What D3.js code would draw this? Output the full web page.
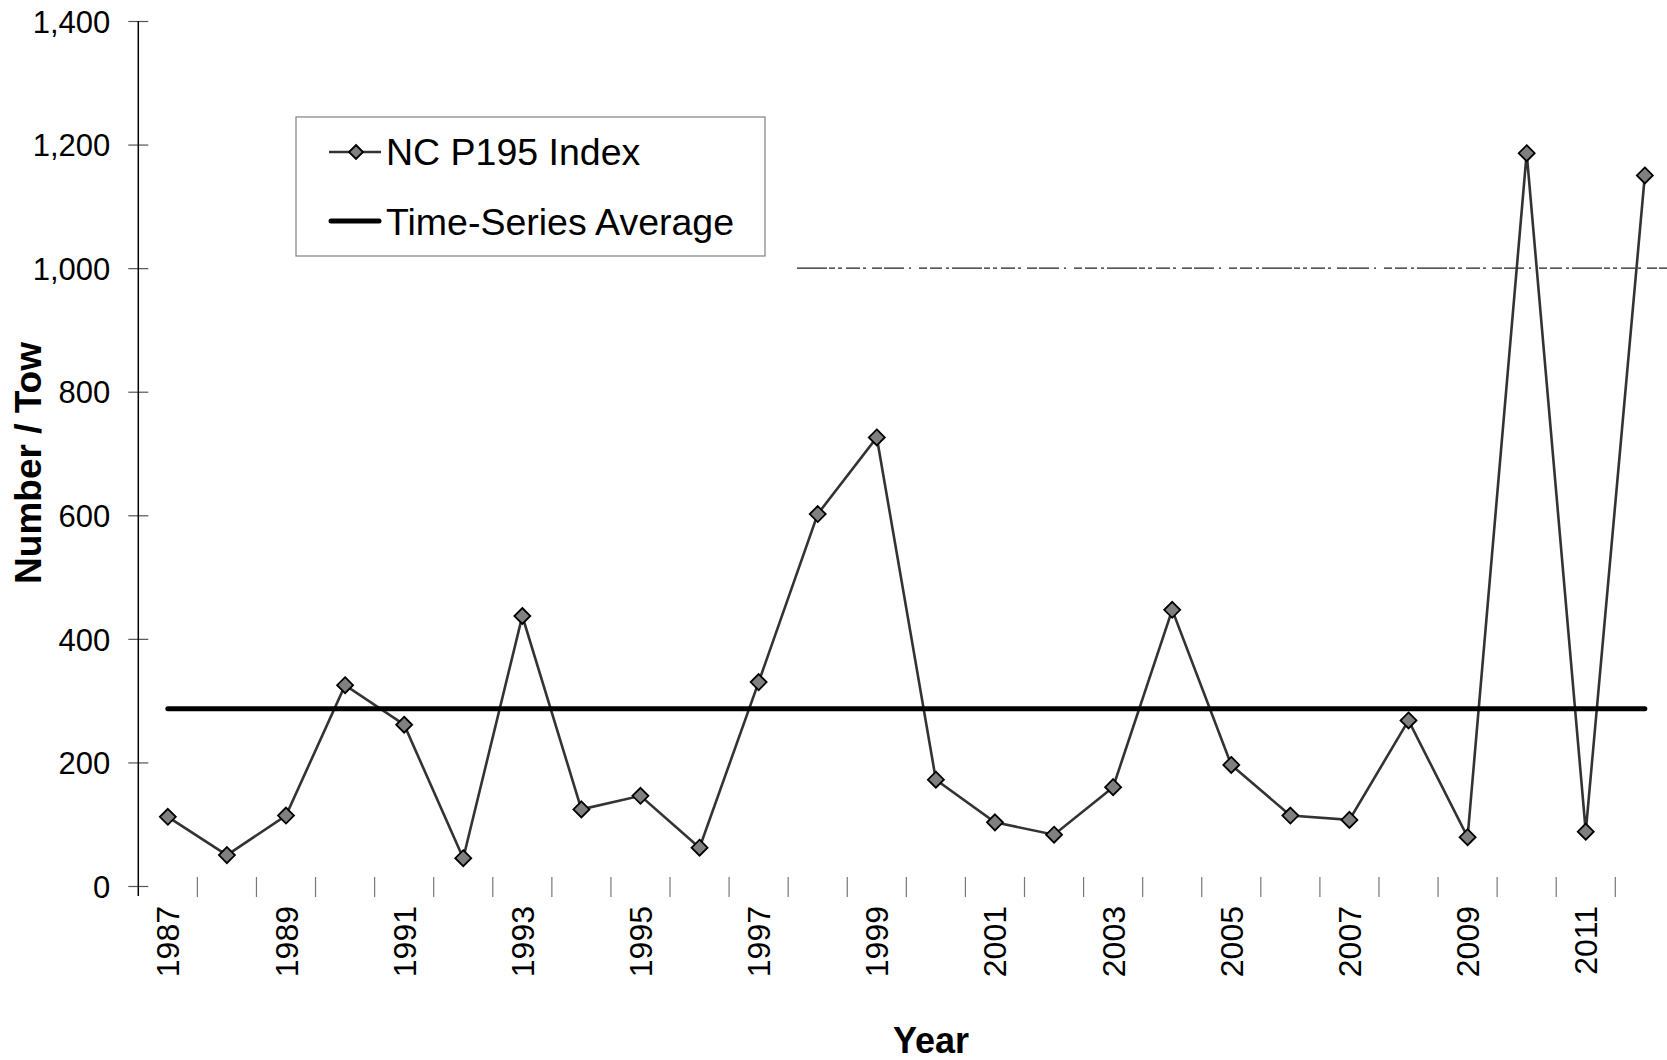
<!DOCTYPE html>
<html>
<head>
<meta charset="utf-8">
<script src="https://cdn.jsdelivr.net/npm/d3@7"></script>
<style>
  html, body { margin: 0; padding: 0; background: #fff; }
  svg { display: block; font-family: "Liberation Sans", Arial, sans-serif; }
</style>
</head>
<body>
<svg id="chart" width="1667" height="1060"></svg>
<script>
// ---- data ----
const years = [1987,1988,1989,1990,1991,1992,1993,1994,1995,1996,1997,1998,1999,
               2000,2001,2002,2003,2004,2005,2006,2007,2008,2009,2010,2011,2012];
const indexValues = [112,50,114,325,261,45,437,124,146,62,330,602,726,
                     172,103,83,160,447,196,114,107,268,79,1186,88,1150];
const averageValue = 287;
const yTicks = [0,200,400,600,800,1000,1200,1400];
const xLabelYears = [1987,1989,1991,1993,1995,1997,1999,2001,2003,2005,2007,2009,2011];
const seriesNames = ["NC P195 Index", "Time-Series Average"];
const artifactLevel = 1000;

// ---- layout ----
const svg = d3.select("#chart");
const plotLeft = 138.3, plotTop = 21, plotBottom = 886;
const step = 59.08;
const x = d3.scaleBand().domain(years).range([plotLeft, plotLeft + step * years.length]).paddingInner(0).paddingOuter(0);
const y = d3.scaleLinear().domain([0, 1400]).range([plotBottom, plotTop]);
const cx = d => x(d) + x.bandwidth() / 2;

// artifact broken line at 1000
svg.append("line")
  .attr("x1", 797).attr("x2", 1667)
  .attr("y1", y(artifactLevel)).attr("y2", y(artifactLevel))
  .attr("stroke", "#222").attr("stroke-width", 1.4)
  .attr("stroke-dasharray", "30 2 6 3 4 4 14 3 3 6 10 2 20 5 2 8 8 3 12 4 3 3");

// y axis
const yAxis = d3.axisLeft(y).tickValues(yTicks).tickFormat(d3.format(",")).tickSize(0).tickPadding(0);
const yg = svg.append("g").attr("transform", `translate(${plotLeft},0)`).call(yAxis);
yg.select(".domain").remove();
yg.selectAll(".tick text")
  .attr("x", -28).attr("dy", "0.36em")
  .attr("font-size", 31).attr("fill", "#000")
  .attr("font-family", "Liberation Sans, Arial, sans-serif");
yg.selectAll(".tick line").remove();
yg.selectAll(".tick").append("line")
  .attr("x1", -10).attr("x2", 10).attr("y1", 0).attr("y2", 0)
  .attr("stroke", "#555").attr("stroke-width", 1.2);
svg.append("line")
  .attr("x1", plotLeft).attr("x2", plotLeft).attr("y1", plotTop).attr("y2", plotBottom + 10)
  .attr("stroke", "#000").attr("stroke-width", 1.5);

// x axis ticks (category boundaries), no baseline
const xg = svg.append("g");
xg.selectAll("line.xt").data(years.slice(1)).enter().append("line")
  .attr("class", "xt")
  .attr("x1", d => x(d)).attr("x2", d => x(d))
  .attr("y1", plotBottom - 9).attr("y2", plotBottom + 11)
  .attr("stroke", "#777").attr("stroke-width", 1.2);
xg.selectAll("text.xl").data(xLabelYears).enter().append("text")
  .attr("class", "xl")
  .attr("transform", d => `translate(${cx(d)},${plotBottom + 20}) rotate(-90)`)
  .attr("text-anchor", "end").attr("dy", "0.36em")
  .attr("font-size", 32).attr("fill", "#000")
  .text(d => d);

// axis titles
svg.append("text")
  .attr("transform", `translate(28,463) rotate(-90)`)
  .attr("text-anchor", "middle").attr("dy", "0.36em")
  .attr("font-size", 37).attr("font-weight", "bold").attr("fill", "#000")
  .text("Number / Tow");
svg.append("text")
  .attr("x", 931).attr("y", 1053)
  .attr("text-anchor", "middle")
  .attr("font-size", 36).attr("font-weight", "bold").attr("fill", "#000")
  .text("Year");

// series line
const pts = years.map((yr, i) => ({ yr, v: indexValues[i] }));
svg.append("path")
  .datum(pts)
  .attr("fill", "none").attr("stroke", "#333").attr("stroke-width", 2.6)
  .attr("d", d3.line().x(d => cx(d.yr)).y(d => y(d.v)));

const diamond = s => `M0,${-s}L${s},0L0,${s}L${-s},0Z`;
svg.selectAll("path.mk").data(pts).enter().append("path")
  .attr("class", "mk")
  .attr("transform", d => `translate(${cx(d.yr)},${y(d.v)})`)
  .attr("d", diamond(8))
  .attr("fill", "#808080").attr("stroke", "#000").attr("stroke-width", 1.8);

// average line
svg.append("line")
  .attr("x1", cx(years[0])).attr("x2", cx(years[years.length - 1]))
  .attr("y1", y(averageValue)).attr("y2", y(averageValue))
  .attr("stroke", "#000").attr("stroke-width", 5).attr("stroke-linecap", "round");

// legend
const lg = svg.append("g");
lg.append("rect")
  .attr("x", 296).attr("y", 117).attr("width", 469).attr("height", 139)
  .attr("fill", "#fff").attr("stroke", "#808080").attr("stroke-width", 1.2);
lg.append("line").attr("x1", 329).attr("x2", 381).attr("y1", 152).attr("y2", 152)
  .attr("stroke", "#333").attr("stroke-width", 2.4);
lg.append("path").attr("transform", "translate(356,152)").attr("d", diamond(7))
  .attr("fill", "#808080").attr("stroke", "#000").attr("stroke-width", 1.8);
lg.append("text").attr("x", 386).attr("y", 165)
  .attr("font-size", 37.5).attr("fill", "#000").text(seriesNames[0]);
lg.append("line").attr("x1", 331).attr("x2", 379).attr("y1", 221).attr("y2", 221)
  .attr("stroke", "#000").attr("stroke-width", 5).attr("stroke-linecap", "round");
lg.append("text").attr("x", 386).attr("y", 235)
  .attr("font-size", 37.5).attr("fill", "#000").text(seriesNames[1]);
</script>
</body>
</html>
